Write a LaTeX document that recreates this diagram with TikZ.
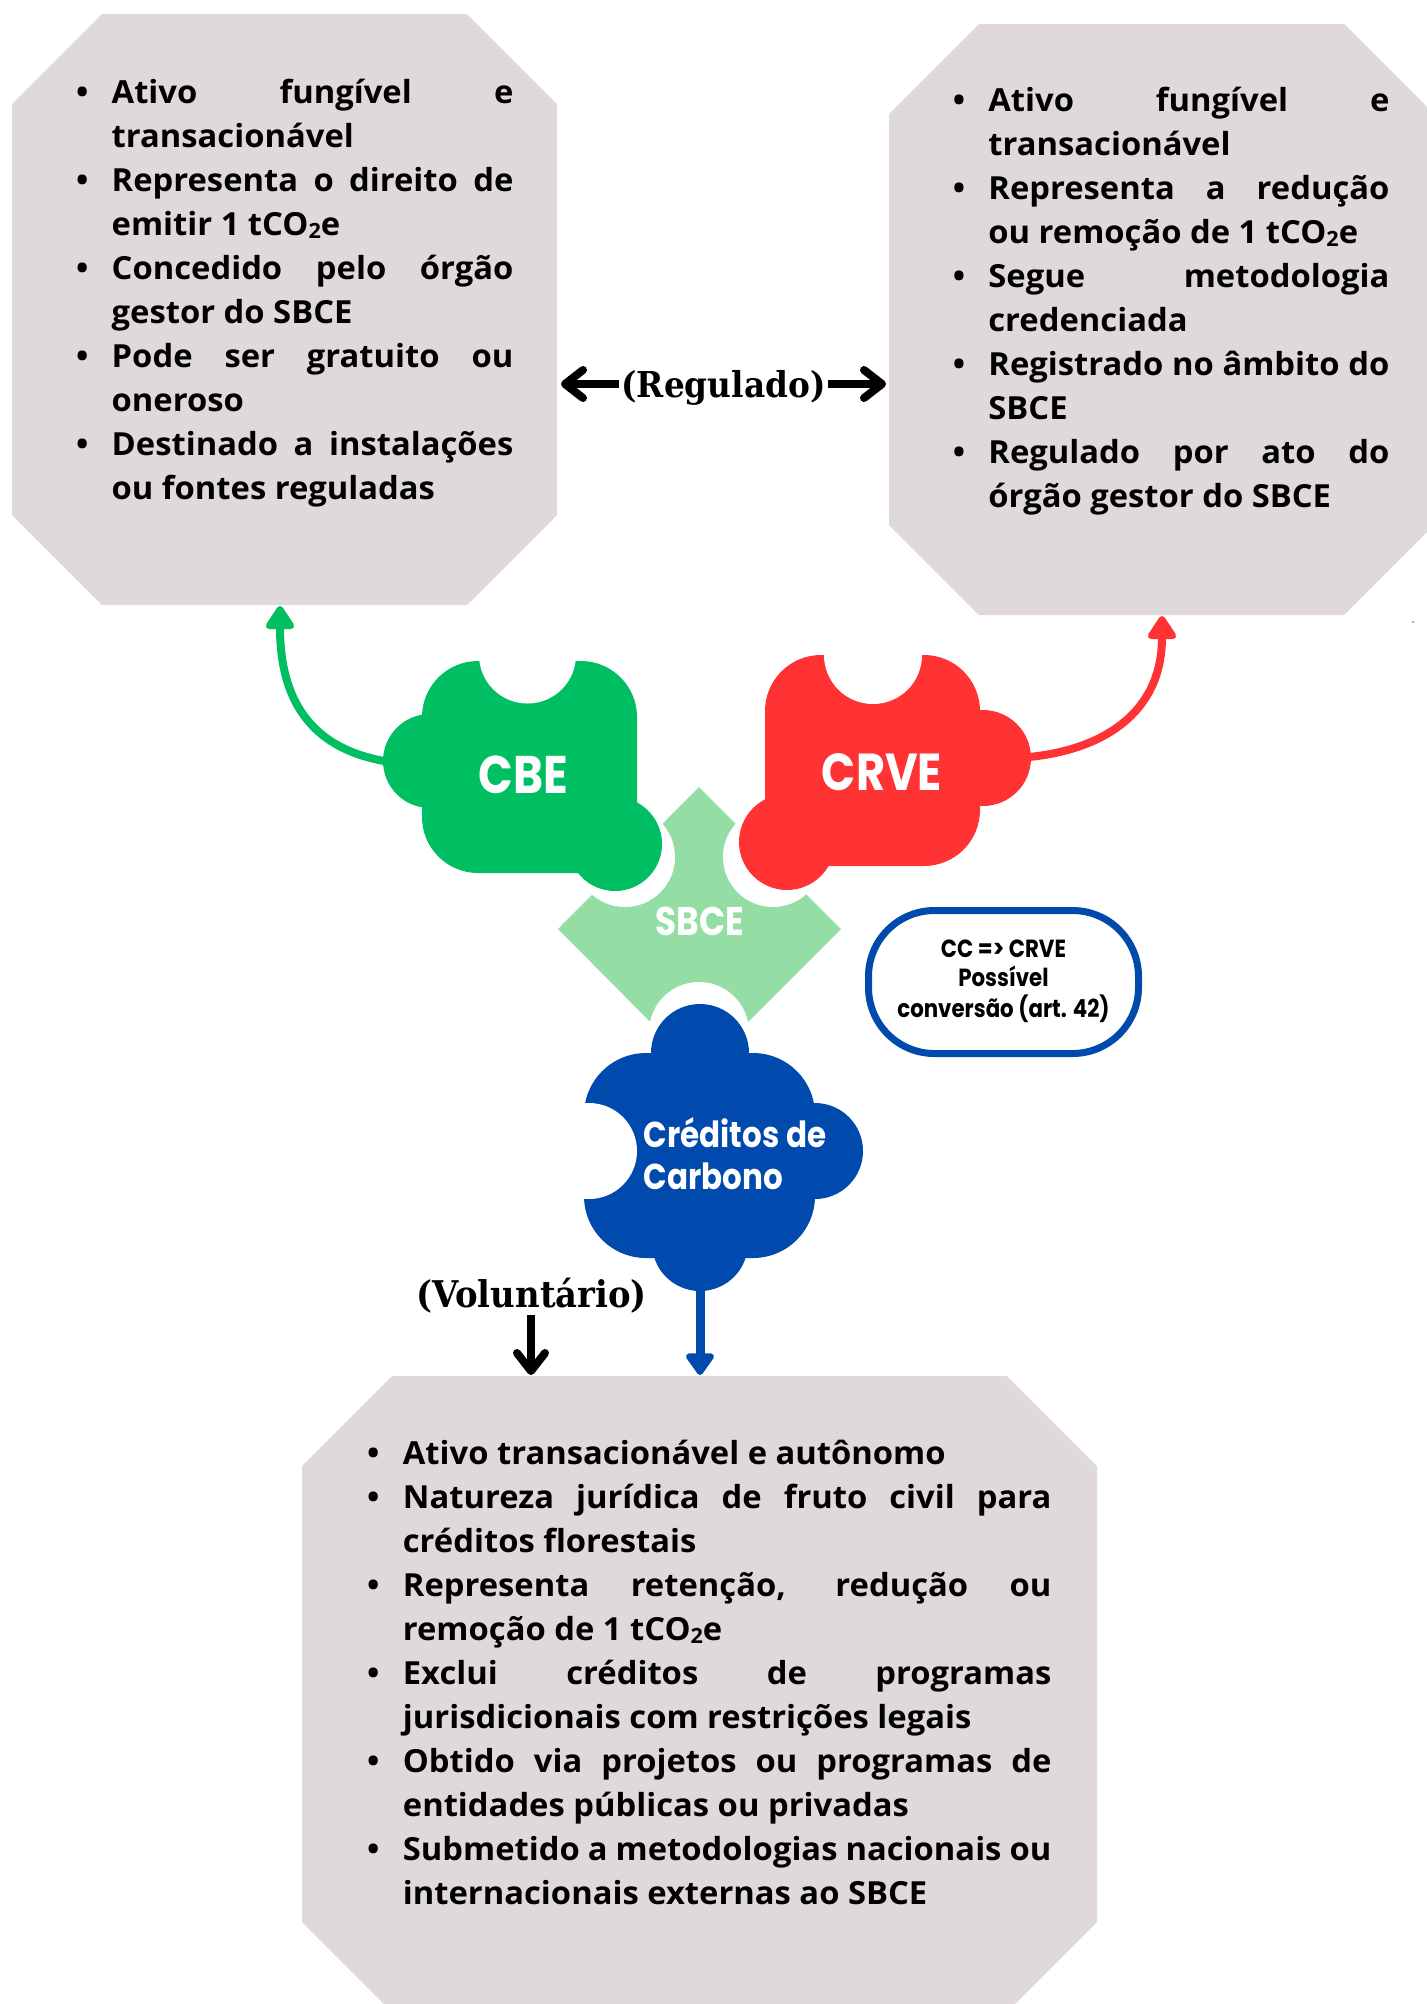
\documentclass[tikz,border=0pt]{standalone}
\usepackage{fontspec}
\setmainfont{Open Sans}[FakeStretch=1.03]
\newfontfamily\geo{Poppins}[FakeStretch=0.86]
\newfontfamily\slab{DejaVu Serif}[FakeStretch=0.92]
\usetikzlibrary{arrows.meta}
\definecolor{octfill}{RGB}{224,217,217}
\definecolor{cbegreen}{RGB}{0,191,99}
\definecolor{crvered}{RGB}{255,51,51}
\definecolor{sbcegreen}{RGB}{148,221,164}
\definecolor{ccblue}{RGB}{0,74,173}
\newlength\tw
\newcommand\bul{\makebox[29.5pt][c]{\textbullet}}
\newcommand\ind{\hspace*{29.5pt}}
\newcommand\jl[1]{\makebox[\tw][s]{#1}}
\newcommand\cotwo{tCO\raisebox{-0.12em}{\fontsize{10.5pt}{10.5pt}\selectfont 2}e}
\newcommand\bodyfont{\fontsize{15.9pt}{22pt}\selectfont\bfseries}
\tikzset{
  octbox/.style={fill=octfill},
  conn/.style={line width=4pt},
  tri/.style={-{Triangle[round,length=13pt,width=16pt]}},
  barb/.style={line width=4pt,-{Straight Barb[round,length=9pt,width=14pt]}},
  lbl/.style={text=white,inner sep=0pt,anchor=base},
  txtblock/.style={inner sep=0pt,anchor=base west,text=black}
}
\begin{document}
\begin{tikzpicture}[x=0.5pt,y=-0.5pt]
\useasboundingbox (0,0) rectangle (1427,2004);
\clip (0,0) rectangle (1427,2004);
% octagons
\fill[octbox] (102,14) -- (467,14) -- (557,104) -- (557,515) -- (467,605) -- (102,605) -- (12,515) -- (12,104) -- cycle;
\fill[octbox] (979,24) -- (1344,24) -- (1434,114) -- (1434,525) -- (1344,615) -- (979,615) -- (889,525) -- (889,114) -- cycle;
\fill[octbox] (392,1376) -- (1007,1376) -- (1097,1466) -- (1097,1922) -- (1007,2012) -- (392,2012) -- (302,1922) -- (302,1466) -- cycle;
% connector anchors on the octagons
\coordinate (octL-s) at (280,606);
\coordinate (octL-e) at (561,384);
\coordinate (octR-s) at (1162,616);
\coordinate (octR-w) at (886,384);
\coordinate (octB-n1) at (531,1375);
\coordinate (octB-n2) at (700,1375);
% texts in octagons
\node[txtblock] (txtL) at (52.3,103) {\bodyfont\setlength\tw{200.85pt}\begin{minipage}[t]{230.35pt}
\bul\jl{Ativo fungível e}\\
\ind transacionável\\
\bul\jl{Representa o direito de}\\
\ind emitir 1 \cotwo\\
\bul\jl{Concedido pelo órgão}\\
\ind gestor do SBCE\\
\bul\jl{Pode ser gratuito ou}\\
\ind oneroso\\
\bul\jl{Destinado a instalações}\\
\ind ou fontes reguladas
\end{minipage}};
\node[txtblock] (txtR) at (929,111) {\bodyfont\setlength\tw{200.5pt}\begin{minipage}[t]{230pt}
\bul\jl{Ativo fungível e}\\
\ind transacionável\\
\bul\jl{Representa a redução}\\
\ind ou remoção de 1 \cotwo\\
\bul\jl{Segue metodologia}\\
\ind credenciada\\
\bul\jl{Registrado no âmbito do}\\
\ind SBCE\\
\bul\jl{Regulado por ato do}\\
\ind órgão gestor do SBCE
\end{minipage}};
\node[txtblock] (txtB) at (343.5,1464) {\bodyfont\setlength\tw{324.25pt}\begin{minipage}[t]{353.75pt}
\bul Ativo transacionável e autônomo\\
\bul\jl{Natureza jurídica de fruto civil para}\\
\ind créditos florestais\\
\bul\jl{Representa retenção, redução ou}\\
\ind remoção de 1 \cotwo\\
\bul\jl{Exclui créditos de programas}\\
\ind jurisdicionais com restrições legais\\
\bul\jl{Obtido via projetos ou programas de}\\
\ind entidades públicas ou privadas\\
\bul\jl{Submetido a metodologias nacionais ou}\\
\ind internacionais externas ao SBCE
\end{minipage}};
% SBCE diamond
\fill[sbcegreen] (699,787) -- (841,929) -- (699,1071) -- (558,929) -- cycle;
\fill[white] (625,857) circle[radius=50] (773,857) circle[radius=50] (699,1032) circle[radius=50];
\node[lbl,font=\geo\bfseries\fontsize{20pt}{20pt}\selectfont] (sbce) at (700,935) {SBCE};
% CBE piece
\fill[cbegreen,rounded corners=28pt] (422,661) rectangle (637,873);
\fill[cbegreen] (430,761) circle[radius=47] (615,844) circle[radius=47];
\fill[white] (527.5,655) circle[radius=48.5];
\node[lbl,font=\geo\bfseries\fontsize{26.5pt}{26.5pt}\selectfont] (cbe) at (523,793) {CBE};
\coordinate (cbe-w) at (384,761);
% CRVE piece
\fill[crvered,rounded corners=28pt] (765,655) rectangle (980,866);
\fill[crvered] (983,758) circle[radius=48] (787,842) circle[radius=48];
\fill[white] (873,655) circle[radius=49];
\node[lbl,font=\geo\bfseries\fontsize{26pt}{26pt}\selectfont] (crve) at (882,790) {CRVE};
\coordinate (crve-e) at (1029,757);
% Creditos de Carbono cloud
\fill[ccblue,rounded corners=31pt] (584,1053) rectangle (815,1258);
\fill[ccblue] (700,1053) circle[radius=49] (815,1151) circle[radius=48] (700,1243) circle[radius=48];
\fill[white] (589,1151) circle[radius=48];
\node[lbl,anchor=base west,font=\geo\bfseries\fontsize{18pt}{21pt}\selectfont] (cc) at (643.5,1147) {\begin{tabular}[t]{@{}l@{}}Créditos de\\Carbono\end{tabular}};
\coordinate (cc-s) at (700,1290);
% conversion box
\node[draw=ccblue,line width=3.5pt,fill=white,rounded corners=33pt,minimum width=135pt,minimum height=71.5pt,inner sep=0pt] (conv) at (1003.5,982) {};
\node[inner sep=0pt,anchor=base,font=\geo\bfseries\fontsize{12.4pt}{14.5pt}\selectfont] (convtxt) at (1003.5,957) {\begin{tabular}[t]{@{}c@{}}CC => CRVE\\Possível\\conversão (art. 42)\end{tabular}};
% labels
\node[inner sep=1pt,anchor=base,font=\slab\bfseries\fontsize{17.8pt}{20pt}\selectfont] (reg) at (723.5,397) {(Regulado)};
\node[inner sep=1pt,anchor=base,font=\slab\bfseries\fontsize{18.4pt}{20pt}\selectfont] (vol) at (531.5,1307) {(Voluntário)};
% connectors
\draw[conn,cbegreen,tri] (cbe-w) .. controls (318,749) and (280,708) .. (octL-s);
\draw[conn,crvered,tri] (crve-e) .. controls (1100,750) and (1162,715) .. (octR-s);
\draw[barb] (reg.west |- octL-e) -- (octL-e);
\draw[barb] (reg.east |- octR-w) -- (octR-w);
\draw[barb] (vol.south -| octB-n1) -- (octB-n1);
\draw[line width=4.5pt,ccblue,-{Triangle[round,length=12pt,width=16pt]}] (cc-s) -- (octB-n2);
\fill[gray!60] (1413,622) circle[radius=1.5];
\end{tikzpicture}
\end{document}
